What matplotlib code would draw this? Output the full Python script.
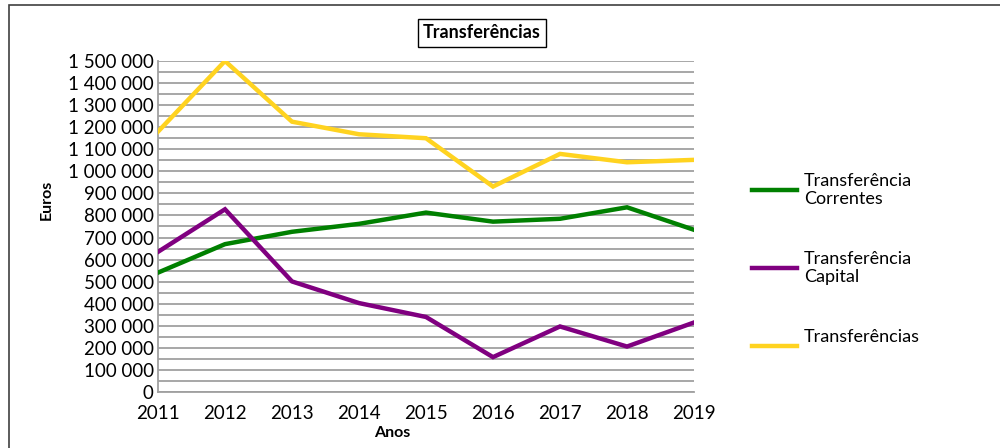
import matplotlib
matplotlib.use("Agg")
import matplotlib.pyplot as plt
from matplotlib.ticker import MultipleLocator, FuncFormatter
from matplotlib.lines import Line2D
from matplotlib.patches import Rectangle

plt.rcParams['font.family'] = ['Lato', 'DejaVu Sans']

anos = [2011, 2012, 2013, 2014, 2015, 2016, 2017, 2018, 2019]
correntes = [541000, 670000, 726000, 762000, 813000, 772000, 785000, 837000, 735000]
capital = [635000, 828000, 501000, 403000, 340000, 158000, 297000, 206000, 315000]
total = [1180000, 1500000, 1225000, 1168000, 1150000, 931000, 1079000, 1041000, 1052000]

series = [
    ("Transferência\nCorrentes", correntes, "#008000"),
    ("Transferência\nCapital", capital, "#800080"),
    ("Transferências", total, "#FFD320"),
]

fig = plt.figure(figsize=(10, 4.48), dpi=100)
W, H = 1000, 448
ax = fig.add_axes([158 / W, 1 - 392 / H, (694 - 158) / W, (392 - 61) / H])

for name, vals, col in series:
    ax.plot(anos, vals, color=col, lw=3.2, solid_joinstyle='miter', zorder=3)

ax.set_xlim(2011, 2019)
ax.set_ylim(0, 1500000)
ax.yaxis.set_major_locator(MultipleLocator(100000))
ax.yaxis.set_minor_locator(MultipleLocator(50000))
ax.yaxis.set_major_formatter(FuncFormatter(lambda v, p: f"{v:,.0f}".replace(",", " ")))
ax.set_xticks(anos)
ax.grid(axis='y', which='both', color='#a0a0a0', lw=1.3)
ax.tick_params(axis='both', which='both', length=0, labelsize=13.5)
ax.tick_params(axis='y', pad=3)
ax.tick_params(axis='x', pad=9)
for s in ['top', 'right']:
    ax.spines[s].set_visible(False)
for s in ['left', 'bottom']:
    ax.spines[s].set_color('#a0a0a0')
    ax.spines[s].set_linewidth(1.3)

fig.text(392 / W, 1 - 433 / H, "Anos", fontsize=11.5, fontweight='bold', ha='center', va='center')
fig.text(47 / W, 1 - 200 / H, "Euros", fontsize=11.5, fontweight='bold', ha='center', va='center', rotation=90)

fig.text(482 / W, 1 - 33 / H, "Transferências", fontsize=13, fontweight='bold', ha='center', va='center',
         bbox=dict(boxstyle='square,pad=0.3', fc='white', ec='black', lw=1))

# legend
leg_y = [190, 268, 346]
txt_y = [190, 268, 337]
for (name, vals, col), ly, ty in zip(series, leg_y, txt_y):
    fig.add_artist(Line2D([752 / W, 797 / W], [1 - ly / H, 1 - ly / H], color=col, lw=3.2))
    fig.text(804 / W, 1 - ty / H, name, fontsize=13, ha='left', va='center', linespacing=1.15)

# outer frame
fig.add_artist(Rectangle((9 / W, -0.05), 1.1, 1 - 5 / H + 0.05, transform=fig.transFigure,
                         fill=False, ec='#404040', lw=1.2))

fig.savefig("out.png", dpi=100)
